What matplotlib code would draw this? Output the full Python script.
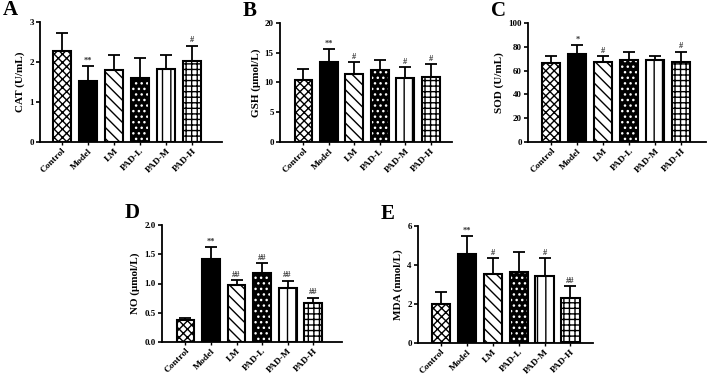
import matplotlib.pyplot as plt

plt.rcParams['font.family'] = ['Liberation Serif', 'DejaVu Serif']
plt.rcParams['font.weight'] = 'bold'
plt.rcParams['hatch.linewidth'] = 1.0

groups = ["Control", "Model", "LM", "PAD-L", "PAD-M", "PAD-H"]

cat_mean = [2.27, 1.52, 1.80, 1.59, 1.83, 2.02]
cat_err = [0.45, 0.38, 0.37, 0.52, 0.34, 0.39]
cat_sig = ["", "**", "", "", "", "#"]

gsh_mean = [10.4, 13.5, 11.4, 12.1, 10.8, 10.9]
gsh_err = [1.8, 2.1, 2.0, 1.7, 1.8, 2.2]
gsh_sig = ["", "**", "#", "", "#", "#"]

sod_mean = [66.0, 74.0, 67.5, 69.0, 68.5, 67.0]
sod_err = [6.5, 7.5, 5.0, 7.0, 4.0, 9.0]
sod_sig = ["", "*", "#", "", "", "#"]

no_mean = [0.37, 1.42, 0.98, 1.18, 0.92, 0.66]
no_err = [0.04, 0.20, 0.08, 0.17, 0.13, 0.10]
no_sig = ["", "**", "##", "##", "##", "##"]

mda_mean = [2.0, 4.55, 3.55, 3.65, 3.45, 2.3]
mda_err = [0.6, 0.95, 0.8, 1.0, 0.9, 0.6]
mda_sig = ["", "**", "#", "", "#", "##"]

# (face, hatch) per group
styles = [("white", "xxxx"), ("black", ""), ("white", "\\\\\\"),
          (None, "..."), ("white", "||"), ("white", "+++")]

W, H = 708, 378


def draw_panel(fig, box, letter, ylabel, mean, err, sig, ymax, step, xlim, fmt):
    left, top, right, bottom = box
    ax = fig.add_axes([left / W, 1 - bottom / H, (right - left) / W, (bottom - top) / H])
    x = list(range(len(groups)))
    for i in x:
        face, hatch = styles[i]
        if face is None:
            # black bar with white dots
            ax.bar(i, mean[i], 0.7, color="black", edgecolor="white", hatch=hatch,
                   linewidth=0, zorder=2)
            ax.bar(i, mean[i], 0.7, facecolor="none", edgecolor="black",
                   linewidth=1.5, zorder=3)
        else:
            ax.bar(i, mean[i], 0.7, color=face, edgecolor="black", hatch=hatch,
                   linewidth=1.5, zorder=2)
    ax.errorbar(x, mean, yerr=[[0] * len(err), err], fmt="none", ecolor="black",
                elinewidth=1.3, capsize=4.5, capthick=1.3, zorder=1)
    for i in x:
        if sig[i]:
            ax.text(i, mean[i] + err[i] + ymax * 0.01, sig[i], ha="center", va="bottom",
                    fontsize=6, color="#333333")
    ax.set_xlim(*xlim)
    ax.set_ylim(0, ymax)
    ticks = [k * step for k in range(int(round(ymax / step)) + 1)]
    ax.set_yticks(ticks)
    ax.set_yticklabels([fmt.format(t) for t in ticks], fontsize=6.5)
    ax.set_xticks(x)
    ax.set_xticklabels(groups, rotation=45, ha="right", rotation_mode="anchor",
                       fontsize=6.8)
    ax.set_ylabel(ylabel, fontsize=8, fontweight="bold", labelpad=3)
    ax.spines["top"].set_visible(False)
    ax.spines["right"].set_visible(False)
    ax.spines["left"].set_linewidth(1.3)
    ax.spines["bottom"].set_linewidth(1.3)
    ax.tick_params(axis="y", length=3, width=1.2, pad=1.5)
    ax.tick_params(axis="x", length=2, width=1.0, pad=1.5)
    fig.text(left / W - 37 / W, 1 - (top - 12) / H, letter, fontsize=15,
             fontweight="bold", ha="left", va="center")
    return ax


fig = plt.figure(figsize=(7.08, 3.78), dpi=100)

draw_panel(fig, (40, 22, 222, 142), "A", "CAT (U/mL)", cat_mean, cat_err, cat_sig,
           3, 1, (-0.85, 6.15), "{:.0f}")
draw_panel(fig, (280, 23, 452, 142), "B", "GSH (\u03bcmol/L)", gsh_mean, gsh_err, gsh_sig,
           20, 5, (-0.92, 5.83), "{:.0f}")
draw_panel(fig, (528, 23, 706, 142), "C", "SOD (U/mL)", sod_mean, sod_err, sod_sig,
           100, 20, (-0.9, 5.96), "{:.0f}")
draw_panel(fig, (162, 225, 342, 342), "D", "NO (\u03bcmol/L)", no_mean, no_err, no_sig,
           2.0, 0.5, (-0.92, 6.13), "{:.1f}")
draw_panel(fig, (418, 226, 593, 343), "E", "MDA (nmol/L)", mda_mean, mda_err, mda_sig,
           6, 2, (-0.88, 5.87), "{:.0f}")

fig.savefig("out.png", dpi=100)
